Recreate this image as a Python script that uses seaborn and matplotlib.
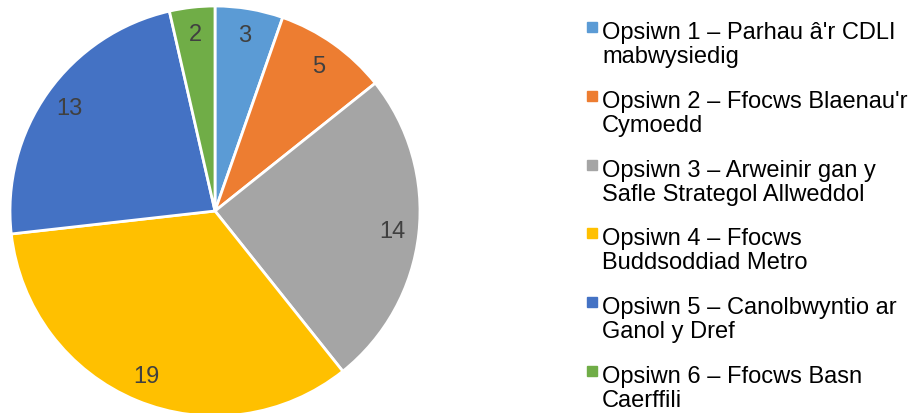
import matplotlib
matplotlib.use("Agg")
import matplotlib.pyplot as plt
import seaborn as sns
from matplotlib.patches import Rectangle

# chart data
options = [
    "Opsiwn 1 – Parhau â'r CDLI\nmabwysiedig",
    "Opsiwn 2 – Ffocws Blaenau'r\nCymoedd",
    "Opsiwn 3 – Arweinir gan y\nSafle Strategol Allweddol",
    "Opsiwn 4 – Ffocws\nBuddsoddiad Metro",
    "Opsiwn 5 – Canolbwyntio ar\nGanol y Dref",
    "Opsiwn 6 – Ffocws Basn\nCaerffili",
]
counts = [3, 5, 14, 19, 13, 2]
colours = ["#5B9BD5", "#ED7D31", "#A5A5A5", "#FFC000", "#4472C4", "#70AD47"]

sns.set_theme(style="white")
plt.rcParams["font.family"] = ["Liberation Sans", "DejaVu Sans"]

palette = sns.color_palette(colours)

W, H = 918, 414
fig = plt.figure(figsize=(W / 100, H / 100), dpi=100)

# pie axes: centre (215, 212) px, radius 205 px
cx, cy, r = 215, 212, 205
ax = fig.add_axes([(cx - r) / W, (H - cy - r) / H, 2 * r / W, 2 * r / H])
ax.pie(
    counts,
    colors=palette,
    startangle=90,
    counterclock=False,
    labels=[str(c) for c in counts],
    labeldistance=0.87,
    textprops=dict(color="#404040", fontsize=17, ha="center", va="center"),
    wedgeprops=dict(edgecolor="white", linewidth=2),
)
ax.set_xlim(-1, 1)
ax.set_ylim(-1, 1)
ax.set_aspect("equal")
ax.axis("off")

# legend drawn by hand so the marker sits on the first line
step = 68.8
for i, (label, col) in enumerate(zip(options, palette)):
    base = 39 + i * step
    fig.patches.append(Rectangle(((587) / W, 1 - (base - 6) / H), 10 / W, 10 / H,
                                 transform=fig.transFigure, color=col))
    for j, line in enumerate(label.split("\n")):
        fig.text(602 / W, 1 - (base + j * 24) / H, line, fontsize=17,
                 color="#000000", ha="left", va="baseline")

fig.savefig("out.png", dpi=100)
